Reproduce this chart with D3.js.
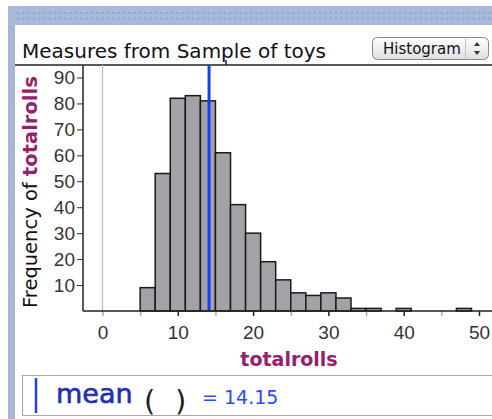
<!DOCTYPE html>
<html lang="en">
<head>
<meta charset="UTF-8">
<title>Measures from Sample of toys</title>
<style>
  html, body { margin: 0; padding: 0; background: #fff; }
  svg { display: block; }
  .tick text { font-family: "Liberation Sans", Arial, sans-serif; font-size: 19px; fill: #333; }
</style>
</head>
<body>
<div id="target"></div>
<script src="https://d3js.org/d3.v7.min.js"></script>
<script>
// histogram of totalrolls, bin width 2
const binLo = [5, 7, 9, 11, 13, 15, 17, 19, 21, 23, 25, 27, 29, 31, 33, 35, 37, 39, 41, 43, 45, 47];
const counts = [9, 53, 82, 83, 81, 61, 41, 30, 19, 12, 7, 6, 7, 5, 1, 1, 0, 1, 0, 0, 0, 1];
const binWidth = 2;
const meanValue = 14.15;
const xTicks = [0, 5, 10, 15, 20, 25, 30, 35, 40, 45, 50];
const yTicks = [10, 20, 30, 40, 50, 60, 70, 80, 90];

const width = 492, height = 419;
const svg = d3.select("#target").append("svg")
    .attr("width", width)
    .attr("height", height);

const x = d3.scaleLinear().domain([0, 50]).range([102.5, 479]);
const y = d3.scaleLinear().domain([0, 90]).range([311, 77.5]);

const plotTop = 65, axisX = 83;

// window chrome
svg.append("rect").attr("x", 8).attr("y", 6).attr("width", 7).attr("height", height - 6).attr("fill", "#a6b6d6");
svg.append("rect").attr("x", 8).attr("y", 6).attr("width", width - 8).attr("height", 19).attr("fill", "#a9b9d9");
const dots = svg.append("g").attr("fill", "#8fa0ca");
[12, 17.5].forEach(function (ry) {
    d3.range(17, width, 5.3).forEach(function (rx) {
        dots.append("rect").attr("x", rx).attr("y", ry).attr("width", 2).attr("height", 2);
    });
});

// title
svg.append("text")
    .attr("x", 22).attr("y", 58)
    .style("font-family", "DejaVu Sans, sans-serif")
    .style("font-size", "20px")
    .attr("fill", "#111")
    .text("Measures from Sample of toys");

// Histogram popup button
const grad = svg.append("defs").append("linearGradient")
    .attr("id", "btn").attr("x1", 0).attr("y1", 0).attr("x2", 0).attr("y2", 1);
grad.append("stop").attr("offset", "0%").attr("stop-color", "#ffffff");
grad.append("stop").attr("offset", "100%").attr("stop-color", "#dedede");
svg.append("rect").attr("x", 372.5).attr("y", 37.5).attr("width", 116).attr("height", 22).attr("rx", 5)
    .attr("fill", "url(#btn)").attr("stroke", "#888");
svg.append("line").attr("x1", 465.5).attr("x2", 465.5).attr("y1", 39).attr("y2", 58).attr("stroke", "#c4c4c4");
svg.append("text").attr("x", 383).attr("y", 54)
    .style("font-family", "DejaVu Sans, sans-serif").style("font-size", "15px")
    .attr("fill", "#111").text("Histogram");
svg.append("path").attr("d", "M474,46 L477,42 L480,46 Z").attr("fill", "#333");
svg.append("path").attr("d", "M474,51 L477,55 L480,51 Z").attr("fill", "#333");

// frame lines
svg.append("line").attr("x1", 15).attr("x2", width).attr("y1", plotTop).attr("y2", plotTop)
    .attr("stroke", "#222").attr("stroke-width", 1.5);
svg.append("line").attr("x1", 226).attr("x2", 226).attr("y1", 60).attr("y2", plotTop)
    .attr("stroke", "#222").attr("stroke-width", 1.5);
svg.append("line").attr("x1", x(0)).attr("x2", x(0)).attr("y1", plotTop).attr("y2", y(0))
    .attr("stroke", "#bbb").attr("stroke-width", 1.2);

// bars
const bars = binLo.map((lo, i) => ({ lo: lo, n: counts[i] })).filter(d => d.n > 0);
svg.append("g").selectAll("rect")
    .data(bars)
    .join("rect")
    .attr("x", d => x(d.lo))
    .attr("y", d => y(d.n))
    .attr("width", d => x(d.lo + binWidth) - x(d.lo))
    .attr("height", d => y(0) - y(d.n))
    .attr("fill", "#a3a2a7")
    .attr("stroke", "#1a1a1a")
    .attr("stroke-width", 1.5);

// mean line
svg.append("line").attr("x1", x(meanValue)).attr("x2", x(meanValue))
    .attr("y1", plotTop).attr("y2", y(0))
    .attr("stroke", "#1a3cf0").attr("stroke-width", 3);

// axes
const yAxis = svg.append("g")
    .attr("transform", `translate(${axisX},0)`)
    .call(d3.axisLeft(y).tickValues(yTicks).tickSize(6).tickPadding(2));
yAxis.select(".domain").remove();
yAxis.selectAll(".tick line").attr("stroke", "#333");

const xAxis = svg.append("g")
    .attr("transform", `translate(0,${y(0)})`)
    .call(d3.axisBottom(x).tickValues(xTicks).tickSize(5)
        .tickFormat(d => d % 10 === 0 ? d : ""));
xAxis.select(".domain").remove();
xAxis.selectAll(".tick line")
    .attr("stroke", d => (d % 10 !== 0 || d === 0) ? "#aaa" : "#222")
    .attr("stroke-width", 1.5);
xAxis.selectAll(".tick text").attr("y", 28).attr("dy", null);

svg.append("line").attr("x1", axisX).attr("x2", axisX).attr("y1", plotTop).attr("y2", y(0))
    .attr("stroke", "#222").attr("stroke-width", 1.5);
svg.append("line").attr("x1", axisX).attr("x2", width).attr("y1", y(0)).attr("y2", y(0))
    .attr("stroke", "#222").attr("stroke-width", 1.5);

// axis titles
const yt = svg.append("text")
    .attr("transform", "translate(37,308) rotate(-90)")
    .style("font-family", "DejaVu Sans, sans-serif")
    .style("font-size", "19.5px");
yt.append("tspan").attr("fill", "#111").text("Frequency of ");
yt.append("tspan").attr("fill", "#97206d").attr("font-weight", "bold").text("totalrolls");

svg.append("text")
    .attr("x", 289).attr("y", 366)
    .attr("text-anchor", "middle")
    .style("font-family", "DejaVu Sans, sans-serif")
    .style("font-size", "19px")
    .attr("font-weight", "bold")
    .attr("fill", "#97206d")
    .text("totalrolls");

// formula box
svg.append("rect").attr("x", 22.5).attr("y", 375.5).attr("width", 480).attr("height", 40)
    .attr("fill", "#fff").attr("stroke", "#a8a8a8");
svg.append("line").attr("x1", 36).attr("x2", 36).attr("y1", 378).attr("y2", 413)
    .attr("stroke", "#2040f0").attr("stroke-width", 2.5);
svg.append("text").attr("x", 56).attr("y", 403)
    .style("font-family", "DejaVu Sans, sans-serif").style("font-size", "27px")
    .attr("fill", "#1f2fb0").attr("stroke", "#1f2fb0").attr("stroke-width", 0.6)
    .text("mean");
svg.append("text").attr("x", 144).attr("y", 411)
    .style("font-family", "DejaVu Sans, sans-serif").style("font-size", "29px")
    .attr("fill", "#222").text("(");
svg.append("text").attr("x", 175).attr("y", 411)
    .style("font-family", "DejaVu Sans, sans-serif").style("font-size", "29px")
    .attr("fill", "#222").text(")");
svg.append("text").attr("x", 202).attr("y", 404)
    .style("font-family", "DejaVu Sans, sans-serif").style("font-size", "19px")
    .attr("fill", "#2a4cf2").text("= " + meanValue.toFixed(2));
</script>
</body>
</html>
